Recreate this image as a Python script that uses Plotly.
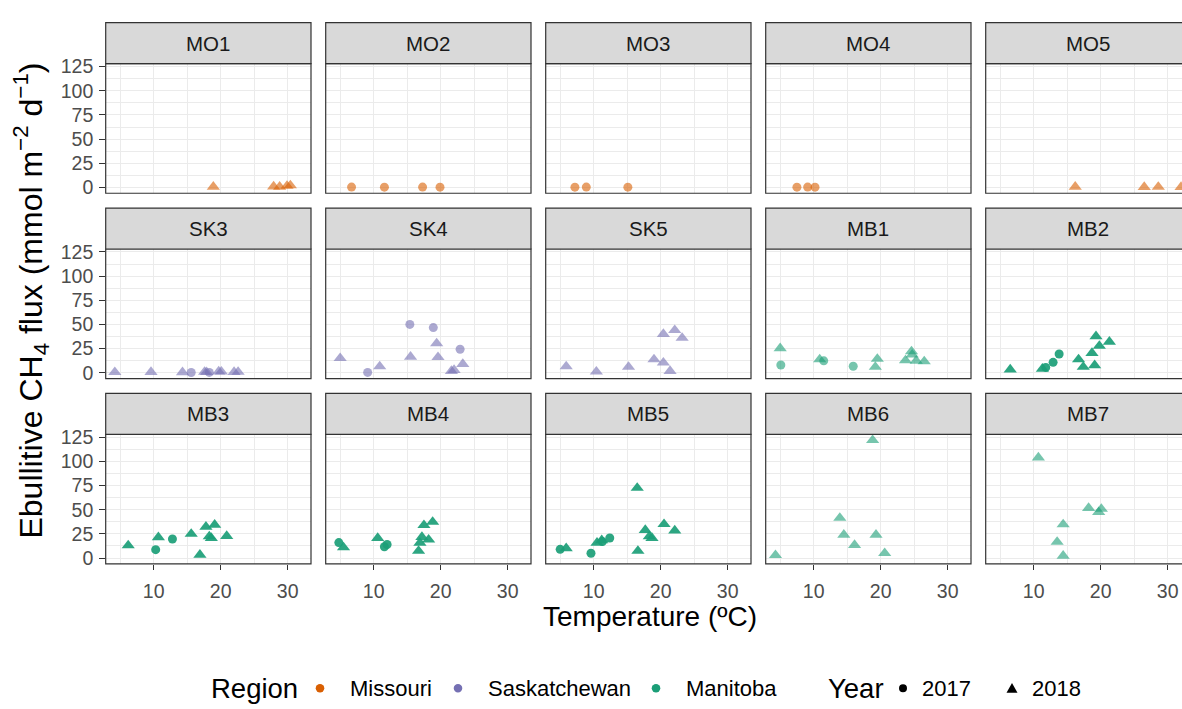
import plotly.graph_objects as go

# ---------------- data (temperature ºC, ebullitive CH4 flux mmol m-2 d-1) ----------------
MO1_T17, MO1_F17 = [], []
MO1_T18 = [18.9, 27.9, 28.8, 29.9, 30.4]
MO1_F18 = [0.5, 0.8, 0.6, 1.5, 2.0]

MO2_T17 = [6.7, 11.6, 17.3, 19.9]
MO2_F17 = [0.3, 0.2, 0.3, 0.2]
MO2_T18, MO2_F18 = [], []

MO3_T17 = [7.2, 8.9, 15.1]
MO3_F17 = [0.2, 0.3, 0.2]
MO3_T18, MO3_F18 = [], []

MO4_T17 = [7.5, 9.1, 10.2]
MO4_F17 = [0.2, 0.3, 0.2]
MO4_T18, MO4_F18 = [], []

MO5_T17, MO5_F17 = [], []
MO5_T18 = [16.2, 26.5, 28.6, 32.0]
MO5_F18 = [0.5, 0.3, 0.4, 0.3]

SK3_T17 = [15.6, 18.3]
SK3_F17 = [0.2, 0.3]
SK3_T18 = [4.2, 9.6, 14.3, 17.6, 17.9, 19.7, 20.1, 22.0, 22.6]
SK3_F18 = [0.5, 0.6, 0.4, 0.8, 0.5, 1.2, 1.0, 0.6, 0.8]

SK4_T17 = [9.1, 15.4, 18.9, 22.9]
SK4_F17 = [0.3, 50.0, 46.7, 24.3]
SK4_T18 = [5.0, 10.9, 15.5, 19.4, 19.6, 21.6, 22.0, 23.3]
SK4_F18 = [15.0, 6.5, 16.5, 30.3, 16.0, 1.7, 2.7, 9.0]

SK5_T17, SK5_F17 = [], []
SK5_T18 = [5.9, 10.4, 15.2, 19.0, 20.4, 20.4, 21.4, 22.1, 23.2]
SK5_F18 = [6.5, 1.0, 6.0, 13.7, 10.3, 40.0, 1.7, 44.0, 36.0]

MB1_T17 = [5.1, 11.5, 15.9]
MB1_F17 = [8.0, 12.3, 6.7]
MB1_T18 = [5.0, 10.9, 19.2, 19.5, 23.7, 24.6, 24.7, 25.3, 26.5]
MB1_F18 = [25.3, 13.7, 6.0, 14.3, 12.7, 22.0, 18.7, 12.3, 11.7]

MB2_T17 = [11.8, 12.9, 13.8]
MB2_F17 = [5.5, 10.7, 19.3]
MB2_T18 = [6.5, 11.3, 16.7, 17.4, 18.7, 19.1, 19.3, 19.8, 21.3]
MB2_F18 = [3.3, 4.0, 13.7, 6.0, 20.3, 7.7, 37.7, 27.7, 32.0]

MB3_T17 = [10.3, 12.8]
MB3_F17 = [8.7, 19.7]
MB3_T18 = [6.2, 10.7, 15.6, 16.9, 17.8, 18.3, 18.6, 19.1, 20.9]
MB3_F18 = [13.0, 21.4, 25.0, 3.3, 32.4, 22.4, 20.7, 34.4, 22.7]

MB4_T17 = [4.8, 11.6, 12.0]
MB4_F17 = [16.0, 11.7, 14.0]
MB4_T18 = [5.5, 10.6, 16.7, 16.9, 17.2, 17.5, 18.2, 18.8]
MB4_F18 = [11.0, 20.7, 7.4, 15.7, 21.7, 34.0, 19.0, 37.4]

MB5_T17 = [5.0, 9.6, 11.3, 12.4]
MB5_F17 = [9.0, 5.0, 17.0, 20.7]
MB5_T18 = [5.9, 10.5, 11.2, 16.5, 16.6, 17.7, 18.3, 18.7, 20.5, 22.1]
MB5_F18 = [10.0, 15.7, 18.4, 72.6, 7.4, 29.0, 22.4, 20.7, 35.0, 28.4]

MB6_T17, MB6_F17 = [], []
MB6_T18 = [4.3, 13.9, 14.5, 16.1, 18.8, 19.3, 20.6]
MB6_F18 = [3.0, 41.5, 24.0, 13.4, 122.0, 24.0, 5.0]

MB7_T17, MB7_F17 = [], []
MB7_T18 = [10.7, 13.5, 14.4, 14.4, 18.2, 19.7, 20.1]
MB7_F18 = [104.0, 16.7, 34.8, 2.3, 51.8, 47.5, 50.8]

SITES = ["MO1", "MO2", "MO3", "MO4", "MO5",
         "SK3", "SK4", "SK5", "MB1", "MB2",
         "MB3", "MB4", "MB5", "MB6", "MB7"]
REGIONS = ["Missouri", "Saskatchewan", "Manitoba"]
YEARS = ["2017", "2018"]
X_TICKS = [10, 20, 30]
Y_TICKS = [0, 25, 50, 75, 100, 125]

SITE_DATA = {
    "MO1": (MO1_T17, MO1_F17, MO1_T18, MO1_F18),
    "MO2": (MO2_T17, MO2_F17, MO2_T18, MO2_F18),
    "MO3": (MO3_T17, MO3_F17, MO3_T18, MO3_F18),
    "MO4": (MO4_T17, MO4_F17, MO4_T18, MO4_F18),
    "MO5": (MO5_T17, MO5_F17, MO5_T18, MO5_F18),
    "SK3": (SK3_T17, SK3_F17, SK3_T18, SK3_F18),
    "SK4": (SK4_T17, SK4_F17, SK4_T18, SK4_F18),
    "SK5": (SK5_T17, SK5_F17, SK5_T18, SK5_F18),
    "MB1": (MB1_T17, MB1_F17, MB1_T18, MB1_F18),
    "MB2": (MB2_T17, MB2_F17, MB2_T18, MB2_F18),
    "MB3": (MB3_T17, MB3_F17, MB3_T18, MB3_F18),
    "MB4": (MB4_T17, MB4_F17, MB4_T18, MB4_F18),
    "MB5": (MB5_T17, MB5_F17, MB5_T18, MB5_F18),
    "MB6": (MB6_T17, MB6_F17, MB6_T18, MB6_F18),
    "MB7": (MB7_T17, MB7_F17, MB7_T18, MB7_F18),
}

# ---------------- styling ----------------
W, H = 1182, 709
FONT = "Liberation Sans, Arial, Helvetica, sans-serif"
REGION_COLOR = {"Missouri": "#D95F02", "Saskatchewan": "#7570B3", "Manitoba": "#1B9E77"}
YEAR_SYMBOL = {"2017": "circle", "2018": "triangle-up"}
YEAR_SIZE = {"2017": 9, "2018": 11.5}
DARK_SITES = {"MB2", "MB3", "MB4", "MB5"}

def region_of(site):
    return {"MO": "Missouri", "SK": "Saskatchewan", "MB": "Manitoba"}[site[:2]]

X_RANGE = [2.84, 33.48]
Y_RANGE = [-6.1, 128.1]
PANEL_W = 205.3
COL_LEFT = [105.7 + 220.0 * c for c in range(5)]
PANEL_TOP = [56.7 + 188.8 * r for r in range(3)]
PANEL_BOT = [188.7 + 188.8 * r for r in range(3)]
STRIP_H = 41.7
PX_PER_UNIT = PANEL_W / (X_RANGE[1] - X_RANGE[0])

GRID = "#EBEBEB"
BORDER = "#333333"

fig = go.Figure()
layout = dict(
    width=W, height=H,
    margin=dict(l=0, r=0, t=0, b=0),
    paper_bgcolor="white", plot_bgcolor="white",
    font=dict(family=FONT, color="#4D4D4D"),
    showlegend=False,
)
shapes = []
annotations = []

def fx(px):
    return px / W

def fy(py):
    return 1 - py / H

for i, site in enumerate(SITES):
    r, c = divmod(i, 5)
    k = i + 1
    xa = "xaxis" if k == 1 else f"xaxis{k}"
    ya = "yaxis" if k == 1 else f"yaxis{k}"
    xr = "x" if k == 1 else f"x{k}"
    yr = "y" if k == 1 else f"y{k}"

    left = COL_LEFT[c]
    right_full = left + PANEL_W
    right_vis = min(right_full, W)
    xmax = X_RANGE[0] + (right_vis - left) / PX_PER_UNIT

    layout[xa] = dict(
        domain=[fx(left), fx(right_vis)], anchor=yr,
        range=[X_RANGE[0], xmax], tickvals=X_TICKS,
        showgrid=True, gridcolor=GRID, gridwidth=1.3,
        minor=dict(dtick=5, tick0=0, showgrid=True, gridcolor=GRID, gridwidth=0.7),
        zeroline=False, showline=False,
        ticks="outside" if r == 2 else "", ticklen=5, tickwidth=1.1, tickcolor=BORDER,
        showticklabels=(r == 2),
        tickfont=dict(size=19.5, color="#4D4D4D", family=FONT),
        ticklabelstandoff=5,
    )
    layout[ya] = dict(
        domain=[fy(PANEL_BOT[r]), fy(PANEL_TOP[r])], anchor=xr,
        range=Y_RANGE, tickvals=Y_TICKS,
        showgrid=True, gridcolor=GRID, gridwidth=1.3,
        minor=dict(dtick=12.5, tick0=0, showgrid=True, gridcolor=GRID, gridwidth=0.7),
        zeroline=False, showline=False,
        ticks="outside" if c == 0 else "", ticklen=5.5, tickwidth=1.1, tickcolor=BORDER,
        showticklabels=(c == 0),
        tickfont=dict(size=19.5, color="#4D4D4D", family=FONT),
        ticklabelstandoff=2,
    )

    t17, f17, t18, f18 = SITE_DATA[site]
    color = REGION_COLOR[region_of(site)]
    alpha = 0.92 if site in DARK_SITES else 0.6
    for yr_lbl, tx, fl in (("2017", t17, f17), ("2018", t18, f18)):
        if not tx:
            continue
        fig.add_trace(go.Scatter(
            x=tx, y=fl, mode="markers", xaxis=xr, yaxis=yr,
            name=f"{site} {yr_lbl}", showlegend=False,
            marker=dict(symbol=YEAR_SYMBOL[yr_lbl], size=YEAR_SIZE[yr_lbl],
                        color=color, opacity=alpha, line=dict(width=0)),
        ))

    # panel border (runs past the figure edge for the cropped last column)
    dom_x1 = (right_full - left) / (right_vis - left)
    shapes.append(dict(type="rect", xref=f"{xr} domain", yref=f"{yr} domain",
                       x0=0, x1=dom_x1, y0=0, y1=1,
                       line=dict(color=BORDER, width=1.2), fillcolor="rgba(0,0,0,0)",
                       layer="above"))
    # strip
    s_top = PANEL_TOP[r] - STRIP_H
    shapes.append(dict(type="rect", xref="paper", yref="paper",
                       x0=fx(left), x1=fx(right_full), y0=fy(PANEL_TOP[r]), y1=fy(s_top),
                       line=dict(color=BORDER, width=1.2), fillcolor="#D9D9D9",
                       layer="above"))
    annotations.append(dict(text=site, xref="paper", yref="paper",
                            x=fx(left + PANEL_W / 2), y=fy(s_top + STRIP_H / 2),
                            xanchor="center", yanchor="middle", showarrow=False,
                            font=dict(size=20.5, color="#1A1A1A", family=FONT)))

# axis titles
annotations.append(dict(text="Temperature (ºC)", xref="paper", yref="paper",
                        x=fx(650), y=fy(620), xanchor="center", yanchor="middle",
                        showarrow=False, font=dict(size=28, color="black", family=FONT)))
annotations.append(dict(text="Ebullitive CH<sub>4</sub> flux (mmol m<sup>−2</sup> d<sup>−1</sup>)",
                        xref="paper", yref="paper", x=fx(31), y=fy(298),
                        xanchor="center", yanchor="middle", textangle=-90,
                        showarrow=False, font=dict(size=32, color="black", family=FONT)))

# legend (drawn manually to match the layout of the original)
LEG_Y = 693
annotations.append(dict(text="Region", xref="paper", yref="paper", x=fx(209), y=fy(LEG_Y),
                        xanchor="left", yanchor="middle", showarrow=False,
                        font=dict(size=27.5, color="black", family=FONT)))
reg_key_x = [320, 458, 656]
for reg, kx in zip(REGIONS, reg_key_x):
    rr = 4.3
    shapes.append(dict(type="circle", xref="paper", yref="paper",
                       x0=fx(kx - rr), x1=fx(kx + rr), y0=fy(LEG_Y + rr), y1=fy(LEG_Y - rr),
                       fillcolor=REGION_COLOR[reg], line=dict(width=0)))
    annotations.append(dict(text=reg, xref="paper", yref="paper", x=fx(kx + 28), y=fy(LEG_Y),
                            xanchor="left", yanchor="middle", showarrow=False,
                            font=dict(size=22, color="black", family=FONT)))
annotations.append(dict(text="Year", xref="paper", yref="paper", x=fx(826), y=fy(LEG_Y),
                        xanchor="left", yanchor="middle", showarrow=False,
                        font=dict(size=27.5, color="black", family=FONT)))
# 2017 key: circle
rr = 4.0
shapes.append(dict(type="circle", xref="paper", yref="paper",
                   x0=fx(903 - rr), x1=fx(903 + rr), y0=fy(LEG_Y + rr), y1=fy(LEG_Y - rr),
                   fillcolor="black", line=dict(width=0)))
annotations.append(dict(text=YEARS[0], xref="paper", yref="paper", x=fx(920), y=fy(LEG_Y),
                        xanchor="left", yanchor="middle", showarrow=False,
                        font=dict(size=22, color="black", family=FONT)))
# 2018 key: triangle
tx0, ty0 = 1012, LEG_Y
path = (f"M {fx(tx0 - 5.5)},{fy(ty0 + 4.5)} L {fx(tx0 + 5.5)},{fy(ty0 + 4.5)} "
        f"L {fx(tx0)},{fy(ty0 - 5.5)} Z")
shapes.append(dict(type="path", xref="paper", yref="paper", path=path,
                   fillcolor="black", line=dict(width=0)))
annotations.append(dict(text=YEARS[1], xref="paper", yref="paper", x=fx(1030), y=fy(LEG_Y),
                        xanchor="left", yanchor="middle", showarrow=False,
                        font=dict(size=22, color="black", family=FONT)))

layout["shapes"] = shapes
layout["annotations"] = annotations
fig.update_layout(**layout)
# the page keeps the browser's default body margin; drop it so the figure fills the window
fig.write_html("out.html", config={"displayModeBar": False},
               post_script="document.body.style.margin='0px';")
